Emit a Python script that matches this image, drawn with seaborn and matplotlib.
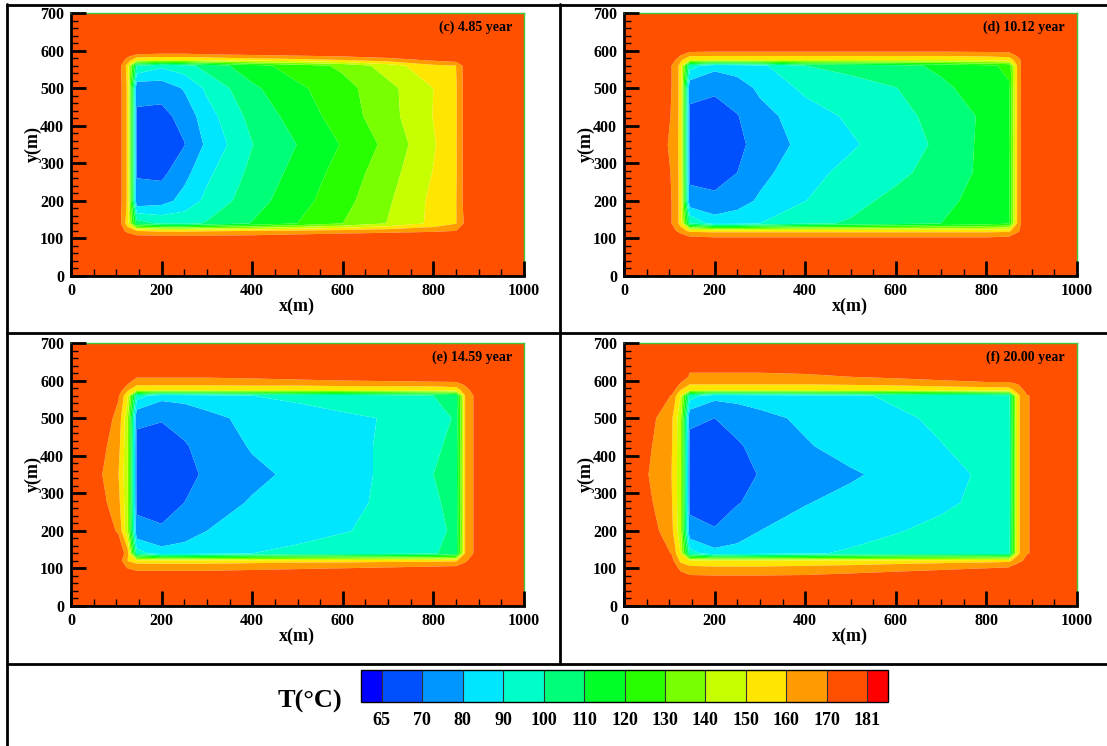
import numpy as np
import matplotlib
matplotlib.use("Agg")
import matplotlib.pyplot as plt
from matplotlib.colors import ListedColormap, BoundaryNorm
from matplotlib.cm import ScalarMappable
from matplotlib.lines import Line2D
from matplotlib.ticker import MultipleLocator
import seaborn as sns

x_nodes = [0, 50, 105, 125, 145, 200, 250, 300, 400, 500, 600, 700, 800, 850, 870, 890, 1000]
y_nodes = [0, 80, 105, 120, 140, 200, 275, 350, 425, 500, 560, 575, 590, 610, 700]

levels = [65, 70, 80, 90, 100, 110, 120, 130, 140, 150, 160, 170, 181]
band_colors = ['#0050ff', '#0096ff', '#00e6ff', '#00ffc8', '#00ff78', '#00ff28',
               '#28ff00', '#78ff00', '#c8ff00', '#ffe600', '#ff9b00', '#ff5000']
under_color = '#0000ff'
over_color = '#ff0000'

panel_labels = ['(c) 4.85 year', '(d) 10.12 year', '(e) 14.59 year', '(f) 20.00 year']

# temperature (°C), one row per y node (bottom to top), one column per x node
t_c = [
    [181, 181, 181, 181, 181, 181, 181, 181, 181, 181, 181, 181, 181, 181, 181, 181, 181],
    [181, 181, 181, 181, 181, 181, 181, 181, 181, 181, 181, 181, 181, 181, 181, 181, 181],
    [181, 181, 181, 178, 173, 172, 172, 172, 173, 175, 177, 178, 180, 181, 181, 181, 181],
    [181, 181, 178, 166, 160, 158, 158, 159, 160, 162, 164, 166, 168, 170, 177, 181, 181],
    [181, 181, 176, 155, 105, 98, 97, 101, 110.5, 120, 130, 140.5, 152.5, 159.5, 172, 181, 181],
    [181, 181, 176, 158, 72, 76, 83.7, 92.4, 105.8, 116.1, 126.6, 138.7, 152.4, 159.6, 174, 181, 181],
    [181, 181, 176, 158, 69.5, 67.5, 76.7, 87.8, 102.6, 113.2, 124, 135.9, 150.4, 159, 174, 181, 181],
    [181, 181, 176, 158, 69, 66, 69.6, 82, 99.7, 110.2, 120.8, 132.7, 148.8, 159.2, 174, 181, 181],
    [181, 181, 176, 158, 69, 67, 73.4, 85.8, 103.3, 114.2, 124.8, 136.3, 150.3, 159, 174, 181, 181],
    [181, 181, 176, 158, 72, 74, 81, 92, 108, 118, 126.5, 137, 150, 159, 174, 181, 181],
    [181, 181, 176, 156, 100, 92, 96, 104, 116, 125, 132, 145, 158, 160, 174, 181, 181],
    [181, 181, 178, 166, 152, 150, 150, 152, 155, 157, 160, 165, 172, 175, 179, 181, 181],
    [181, 181, 181, 174, 170, 169, 169, 170, 172, 174, 176, 179, 181, 181, 181, 181, 181],
    [181, 181, 181, 181, 181, 181, 181, 181, 181, 181, 181, 181, 181, 181, 181, 181, 181],
    [181, 181, 181, 181, 181, 181, 181, 181, 181, 181, 181, 181, 181, 181, 181, 181, 181],
]

t_d = [
    [181, 181, 181, 181, 181, 181, 181, 181, 181, 181, 181, 181, 181, 181, 181, 181, 181],
    [181, 181, 181, 181, 181, 181, 181, 181, 181, 181, 181, 181, 181, 181, 181, 181, 181],
    [181, 181, 181, 177, 170, 169, 169, 169, 169, 169, 169, 169, 169, 170, 176, 181, 181],
    [181, 181, 176, 164, 158, 157, 157, 157, 157, 157, 157, 157, 157, 158, 168, 181, 181],
    [181, 181, 170, 157, 100, 85, 86, 90, 98, 101, 105, 110, 114, 119, 165, 181, 181],
    [181, 181, 170, 157, 72, 72, 76, 81.5, 89.8, 96.8, 102.8, 108, 113, 118, 165, 181, 181],
    [181, 181, 169.5, 157, 68.5, 66.5, 70, 77, 86.7, 92.8, 97.5, 104.3, 112.5, 118, 165, 181, 181],
    [181, 181, 168, 157, 68, 66, 67.5, 73.9, 83, 88.7, 94.9, 102, 113, 119.5, 165, 181, 181],
    [181, 181, 169.5, 157, 68.5, 67, 69.5, 76.3, 85.2, 91.6, 96.7, 103.5, 112, 118, 165, 181, 181],
    [181, 181, 170, 157, 72, 71.2, 75, 82, 92.2, 96, 99.7, 107.9, 115, 119, 165, 181, 181],
    [181, 181, 170, 157, 95, 83, 85, 88, 100, 103, 107, 112, 118, 122, 165, 181, 181],
    [181, 181, 176, 162, 150, 150, 150, 150, 150, 150, 150, 150, 152, 154, 166, 181, 181],
    [181, 181, 181, 172, 165, 164, 164, 164, 164, 164, 164, 164, 165, 166, 174, 181, 181],
    [181, 181, 181, 181, 181, 181, 181, 181, 181, 181, 181, 181, 181, 181, 181, 181, 181],
    [181, 181, 181, 181, 181, 181, 181, 181, 181, 181, 181, 181, 181, 181, 181, 181, 181],
]

t_e = [
    [181, 181, 181, 181, 181, 181, 181, 181, 181, 181, 181, 181, 181, 181, 181, 181, 181],
    [181, 181, 181, 178, 176, 176, 176, 176, 177, 178, 179, 180, 181, 181, 181, 181, 181],
    [181, 181, 178, 168, 165, 165, 165, 165, 166, 167, 168, 169, 170, 171, 175, 181, 181],
    [181, 181, 176, 160, 155, 155, 155, 155, 156, 157, 157, 158, 158, 159, 168, 176, 181],
    [181, 181, 178, 165, 95, 84, 85, 87, 90, 92, 94, 96, 99, 104, 160, 171, 181],
    [181, 181, 168.5, 142, 72, 71, 75, 80, 84, 87, 89.5, 92, 97, 102, 160, 171, 181],
    [181, 178, 163, 142, 68.5, 67, 70, 75, 81, 85, 88, 91.5, 98.5, 103, 160, 171, 181],
    [181, 175.3, 160, 142, 68, 66, 68, 71.1, 77.4, 82.4, 86.6, 91.7, 100, 104, 160, 171, 181],
    [181, 178, 163, 142, 68.5, 67, 69.2, 73, 81, 84.5, 88, 91, 98, 103, 160, 171, 181],
    [181, 181, 166.6, 142, 71, 70.5, 73, 77, 83, 86, 88.5, 90.5, 96, 101, 160, 171, 181],
    [181, 181, 171, 152, 95, 83, 84, 86, 90, 92, 94, 96, 100, 104, 160, 171, 181],
    [181, 181, 176, 162, 150, 150, 150, 150, 150, 150, 151, 152, 153, 155, 165, 175, 181],
    [181, 181, 181, 170, 162, 162, 162, 162, 163, 163, 164, 164, 164, 165, 172, 181, 181],
    [181, 181, 181, 181, 171, 171, 171, 171, 172, 174, 176, 178, 181, 181, 181, 181, 181],
    [181, 181, 181, 181, 181, 181, 181, 181, 181, 181, 181, 181, 181, 181, 181, 181, 181],
]

t_f = [
    [181, 181, 181, 181, 181, 181, 181, 181, 181, 181, 181, 181, 181, 181, 181, 181, 181],
    [181, 181, 181, 175, 171, 170.5, 170.5, 170.5, 171, 173, 175, 177, 179, 181, 181, 181, 181],
    [181, 181, 178, 165, 161, 160, 160, 160, 161, 162, 164, 166, 168, 169, 176, 181, 181],
    [181, 181, 174, 158, 152, 152, 152, 152, 153, 154, 155, 156, 157, 158, 166, 174, 181],
    [181, 181, 169.5, 150, 95, 83, 84, 86, 89, 91, 93, 94, 95, 96, 158, 169.5, 181],
    [181, 177, 163, 143, 72, 70.5, 75, 80, 84, 87, 89.5, 92, 93.5, 95, 158, 169.5, 181],
    [181, 173, 161, 143, 68.5, 67, 69.5, 72.5, 79.5, 83, 86, 88.5, 92, 94, 158, 169.5, 181],
    [181, 170.8, 160, 143, 68, 66, 67.5, 70.4, 74.5, 78.7, 82.9, 87.1, 91.5, 94, 158, 169.5, 181],
    [181, 172.5, 161, 143, 68.5, 67, 69, 72.5, 79, 83.8, 86.8, 89.8, 92, 94, 158, 169.5, 181],
    [181, 175, 162, 143, 71, 70, 73, 77, 82, 85.5, 89, 91, 93, 95, 158, 169.5, 181],
    [181, 181, 169.5, 150, 95, 83, 84, 85, 87, 89, 91, 93, 94, 96, 158, 169.5, 181],
    [181, 181, 176, 160, 150, 150, 150, 150, 150, 151, 152, 153, 155, 156, 164, 174, 181],
    [181, 181, 181, 168, 160, 160, 160, 160, 160, 161, 162, 164, 165, 165, 170, 181, 181],
    [181, 181, 181, 178, 168.5, 168.5, 168.5, 168.5, 169, 170, 172, 175, 181, 181, 181, 181, 181],
    [181, 181, 181, 181, 181, 181, 181, 181, 181, 181, 181, 181, 181, 181, 181, 181, 181],
]

fields = [t_c, t_d, t_e, t_f]

sns.set_theme(style="white")
plt.rcParams['font.family'] = ['Liberation Serif', 'DejaVu Serif']
plt.rcParams['font.weight'] = 'bold'
plt.rcParams.update({
    'text.color': 'black', 'axes.labelcolor': 'black',
    'xtick.color': 'black', 'ytick.color': 'black',
    'xtick.bottom': True, 'ytick.left': True,
    'xtick.direction': 'in', 'ytick.direction': 'in',
})

W, H = 1107, 746
fig = plt.figure(figsize=(W / 100, H / 100), dpi=100)

cmap = ListedColormap(sns.color_palette(band_colors))
cmap.set_under(under_color)
cmap.set_over(over_color)
norm = BoundaryNorm(levels, cmap.N)

# top-left corner of each plotting area, in pixels
corners = [(71, 13), (624, 13), (71, 343), (624, 343)]
ax_w, ax_h = 453, 263

for (px, py), field, label in zip(corners, fields, panel_labels):
    ax = fig.add_axes([px / W, 1 - (py + ax_h) / H, ax_w / W, ax_h / H])
    ax.contourf(x_nodes, y_nodes, np.array(field), levels=levels,
                cmap=cmap, norm=norm, extend='both', antialiased=True)
    ax.set_xlim(0, 1000)
    ax.set_ylim(0, 700)
    ax.set_axisbelow(False)

    ax.xaxis.set_major_locator(MultipleLocator(200))
    ax.xaxis.set_minor_locator(MultipleLocator(50))
    ax.yaxis.set_major_locator(MultipleLocator(100))
    ax.yaxis.set_minor_locator(MultipleLocator(20))
    ax.tick_params(which='major', direction='in', left=True, bottom=True,
                   top=False, right=False, color='black',
                   length=11, width=2, labelsize=11.5, pad=5)
    ax.tick_params(which='minor', direction='in', left=True, bottom=True,
                   top=False, right=False, color='black', length=5, width=1)
    for t in ax.get_xticklabels() + ax.get_yticklabels():
        t.set_fontweight('bold')

    for side in ['left', 'bottom']:
        ax.spines[side].set_color('black')
        ax.spines[side].set_linewidth(2)
    for side in ['top', 'right']:
        ax.spines[side].set_color('#3cc83c')
        ax.spines[side].set_linewidth(1)

    ax.set_xlabel('x(m)', fontsize=13, fontweight='bold')
    ax.xaxis.set_label_coords(0.499, -0.083)
    ax.set_ylabel('y(m)', fontsize=13, fontweight='bold')
    ax.yaxis.label.set_va('center')
    ax.yaxis.set_label_coords(-0.084, 0.5)

    ax.text(0.9735, 0.947, label, transform=ax.transAxes, ha='right', va='center',
            fontsize=10, fontweight='bold', color='black')

# colour bar (the axes covers the two end caps as well)
cax = fig.add_axes([361 / W, 1 - 702 / H, 527 / W, 32 / H])
cb = fig.colorbar(ScalarMappable(norm=norm, cmap=cmap), cax=cax, orientation='horizontal',
                  extend='both', extendrect=True, extendfrac=0.043, drawedges=True,
                  ticks=levels, spacing='uniform')
cb.outline.set_linewidth(1)
cb.outline.set_edgecolor('black')
cb.dividers.set_color('#333333')
cb.dividers.set_linewidth(0.8)
cax.tick_params(length=0, pad=7, labelsize=13)
cax.set_xticklabels([str(v) for v in levels], fontweight='bold')
fig.text(310 / W, 1 - 701 / H, 'T(°C)', ha='center', va='center',
         fontsize=19, fontweight='bold', color='black')

# table frame lines
def frame_line(x0, y0, x1, y1):
    fig.add_artist(Line2D([x0 / W, x1 / W], [1 - y0 / H, 1 - y1 / H],
                          transform=fig.transFigure, color='black', lw=2))

frame_line(7, 4.5, W, 4.5)
frame_line(7, 4, 7, H)
frame_line(7, 333, W, 333)
frame_line(7, 663.5, W, 663.5)
frame_line(560, 4, 560, 663.5)

fig.savefig('out.png', dpi=100)
